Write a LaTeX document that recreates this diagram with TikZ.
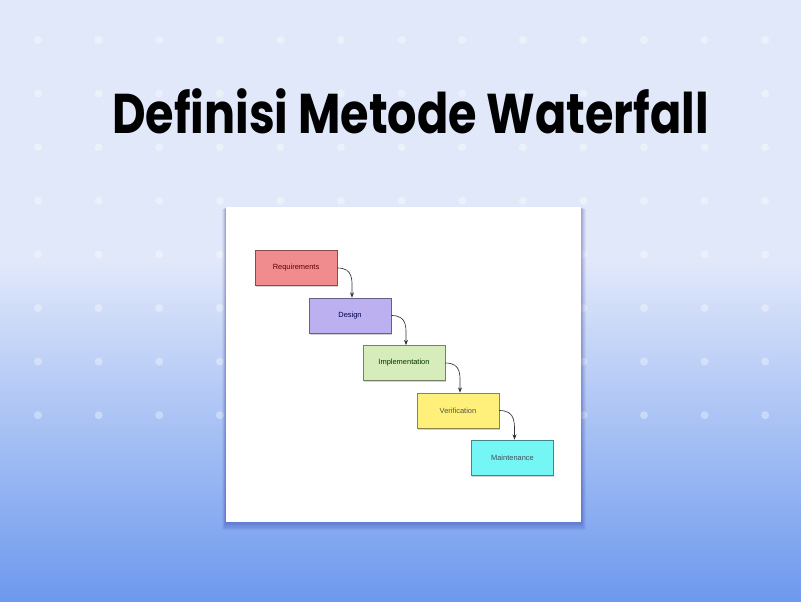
\documentclass[tikz,border=0pt]{standalone}
\usepackage{fontspec}
\setmainfont{Liberation Sans}
\newfontfamily\titlefont{Poppins}
\usetikzlibrary{arrows.meta,positioning,shadows}
\definecolor{bgtop}{HTML}{E1E8FA}
\definecolor{bgbot}{HTML}{6D99EE}
\definecolor{reqpink}{HTML}{F08C8E}
\definecolor{despurple}{HTML}{BCB0F0}
\definecolor{impgreen}{HTML}{D6ECBA}
\definecolor{veryellow}{HTML}{FFF07C}
\definecolor{maincyan}{HTML}{74F6F4}

\begin{document}
\begin{tikzpicture}[x=0.75pt,y=0.75pt,>={Stealth[length=4pt,width=3pt]},
  phase/.style={draw=#1!55!black,fill=#1,line width=0.5pt,
    minimum width=61.5pt,minimum height=26.25pt,inner sep=0pt,
    font=\fontsize{5.6}{6}\selectfont,
    drop shadow={shadow xshift=0.6pt,shadow yshift=-1.4pt,opacity=0.35}},
  flow/.style={->,line width=0.5pt,black!80,looseness=1.3}]

  % background
  \useasboundingbox (0,0) rectangle (801,-601);
  \fill[bgtop] (0,0) rectangle (801,-260);
  \shade[top color=bgtop,bottom color=bgbot] (0,-260) rectangle (801,-601);
  \foreach \i in {0,...,12}
    \foreach \j in {0,...,7}
      \fill[white,opacity=0.35] ({38+60.6*\i},{-40-53.6*\j}) circle (4);

  \node[anchor=base,font=\titlefont\bfseries\fontsize{42}{46}\selectfont]
    (title) at (410.5,-133) {\scalebox{0.824}[1]{Definisi Metode Waterfall}};

  % panel with soft shadow
  \foreach \k in {1,...,6}
    \fill[blue!50!black,opacity=0.05] (226-\k*0.6,-207-\k*0.3)
      rectangle (581+\k*0.8,-522-\k*1.4);
  \fill[white] (226,-207) rectangle (581,-522);

  \node[phase=reqpink,text=red!40!black]      (req) at (296,-268)   {Requirements};
  \node[phase=despurple,text=blue!30!black]   (des) at (350,-315.5) {Design};
  \node[phase=impgreen,text=green!20!black]   (imp) at (404,-363)   {Implementation};
  \node[phase=veryellow,text=yellow!25!black] (ver) at (458,-410.5) {Verification};
  \node[phase=maincyan,text=cyan!25!black]    (mai) at (512.5,-457.5) {Maintenance};

  \draw[flow] (req.east) to[out=0,in=90] ([xshift=1.5]des.north);
  \draw[flow] (des.east) to[out=0,in=90] ([xshift=1.5]imp.north);
  \draw[flow] (imp.east) to[out=0,in=90] ([xshift=1.5]ver.north);
  \draw[flow] (ver.east) to[out=0,in=90] ([xshift=1.5]mai.north);
\end{tikzpicture}
\end{document}
